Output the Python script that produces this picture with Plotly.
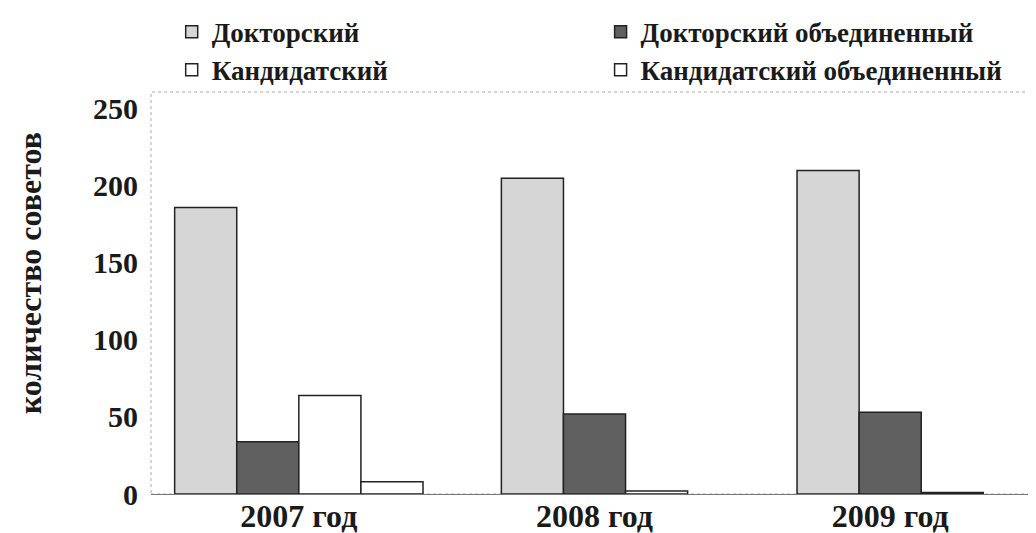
import plotly.graph_objects as go

categories = ["2007 год", "2008 год", "2009 год"]
series_names = ["Докторский", "Докторский объединенный", "Кандидатский", "Кандидатский объединенный"]
doktorskiy = [186, 205, 210]
doktorskiy_obed = [34, 52, 53]
kandidatskiy = [64, 2, 1]
kandidatskiy_obed = [8, None, None]
y_ticks = [0, 50, 100, 150, 200, 250]
y_title = "количество советов"

values = [doktorskiy, doktorskiy_obed, kandidatskiy, kandidatskiy_obed]
fills = ["#d6d6d6", "#606060", "#ffffff", "#ffffff"]
legend_ids = ["legend", "legend2", "legend", "legend2"]

FONT = "Liberation Serif"
TXT = "#1a1a1a"
BAR_W = 0.21  # bar width in category units

# bars of each category are centred on the category (missing series take no slot)
present = [[v[c] is not None for v in values] for c in range(len(categories))]

fig = go.Figure()
for i, (name, vals, col, lg) in enumerate(zip(series_names, values, fills, legend_ids)):
    offsets = []
    for c in range(len(categories)):
        n = sum(present[c])
        j = sum(present[c][:i])
        offsets.append((j - n / 2) * BAR_W)
    fig.add_trace(go.Bar(
        x=categories, y=vals, name=name, legend=lg,
        width=BAR_W, offset=offsets,
        marker=dict(color=col, line=dict(color="#222222", width=1.5)),
    ))

legend_common = dict(
    orientation="v", yref="paper", y=1.21, yanchor="top", xref="container", xanchor="left",
    font=dict(family=FONT, size=27, color=TXT, weight="bold"),
    itemwidth=30, tracegroupgap=0, traceorder="normal", bgcolor="rgba(0,0,0,0)",
)

fig.update_layout(
    width=1036, height=533,
    paper_bgcolor="white", plot_bgcolor="white",
    barmode="overlay",
    margin=dict(l=143, r=6, t=84, b=47, autoexpand=False),
    font=dict(family=FONT, color=TXT),
    legend=dict(x=0.158, **legend_common),
    legend2=dict(x=0.572, **legend_common),
    xaxis=dict(
        type="category", range=[-0.5, 2.5],
        showline=True, linecolor="#777777", linewidth=1.2,
        ticks="", ticklabelstandoff=-7,
        tickfont=dict(family=FONT, size=32, color=TXT, weight="bold"),
        showgrid=False,
    ),
    yaxis=dict(
        range=[0, 261], tickvals=y_ticks, showgrid=False, showline=False, zeroline=False,
        ticks="", ticklabelstandoff=12,
        tickfont=dict(family=FONT, size=30, color=TXT, weight="bold"),
    ),
    annotations=[dict(text=y_title, textangle=-90, xref="paper", yref="paper",
                      x=-0.136, y=0.55, xanchor="center", yanchor="middle", showarrow=False,
                      font=dict(family=FONT, size=32, color=TXT, weight="bold"))],
    shapes=[dict(type="rect", xref="paper", yref="paper", x0=0, x1=1, y0=0, y1=1,
                 line=dict(color="#aaaaaa", width=1, dash="dot"), layer="below")],
)

fig.write_html("out.html")
